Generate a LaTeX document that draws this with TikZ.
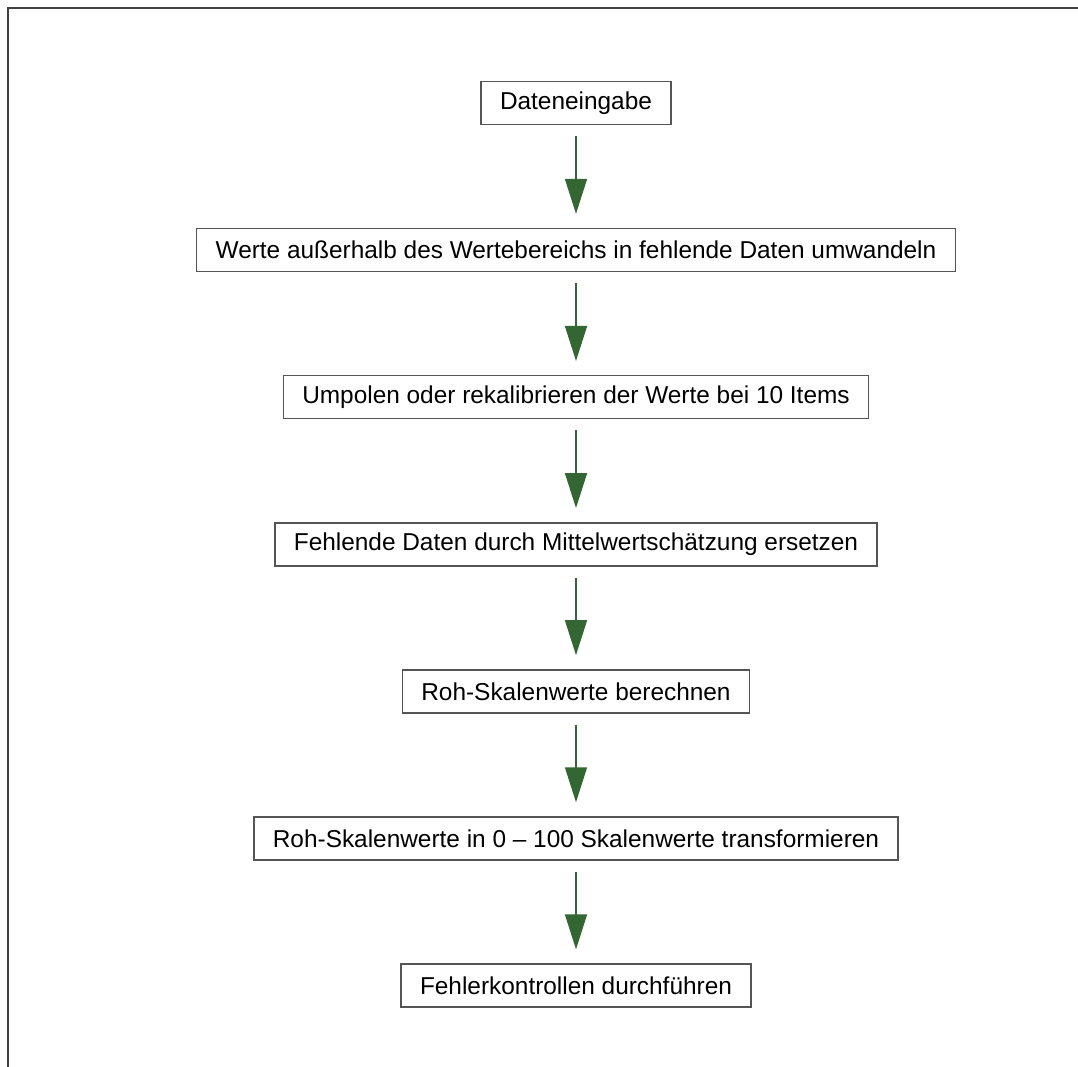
\documentclass[tikz,border=0pt]{standalone}
\usepackage{fontspec}
\setmainfont{Liberation Sans}
\usepackage{tikz}
\usetikzlibrary{positioning,arrows.meta}
\definecolor{arrowgreen}{RGB}{51,102,51}
\definecolor{boxgray}{RGB}{85,85,85}
\definecolor{framegray}{RGB}{64,64,64}

\begin{document}
\begin{tikzpicture}[node distance=51.3pt,
                    stepbox/.style={rectangle,draw=boxgray,line width=0.75pt,
                      minimum height=21.5pt,inner xsep=9.5pt,font=\fontsize{12.2}{14}\selectfont},
                    flow/.style={draw=arrowgreen,line width=0.8pt,shorten <=5.5pt,shorten >=7pt,
                      -{Triangle[length=17.5pt,width=11pt]}}]

    \useasboundingbox (0,0) rectangle (539pt,-533.5pt);
    \draw[framegray,line width=1pt] (3.75pt,-533.5pt) -- (3.75pt,-3.75pt) -- (539pt,-3.75pt);

    \node[stepbox] (input) at (288pt,-51.5pt) {Dateneingabe};
    \node[stepbox,below=of input] (range) {Werte außerhalb des Wertebereichs in fehlende Daten umwandeln};
    \node[stepbox,below=of range] (recode) {Umpolen oder rekalibrieren der Werte bei 10 Items};
    \node[stepbox,below=of recode] (impute) {Fehlende Daten durch Mittelwertschätzung ersetzen};
    \node[stepbox,below=of impute] (raw) {Roh-Skalenwerte berechnen};
    \node[stepbox,below=of raw] (transform) {Roh-Skalenwerte in 0 – 100 Skalenwerte transformieren};
    \node[stepbox,below=of transform] (check) {Fehlerkontrollen durchführen};

    \draw[flow] (input) -- (range);
    \draw[flow] (range) -- (recode);
    \draw[flow] (recode) -- (impute);
    \draw[flow] (impute) -- (raw);
    \draw[flow] (raw) -- (transform);
    \draw[flow] (transform) -- (check);
  \end{tikzpicture}
\end{document}
